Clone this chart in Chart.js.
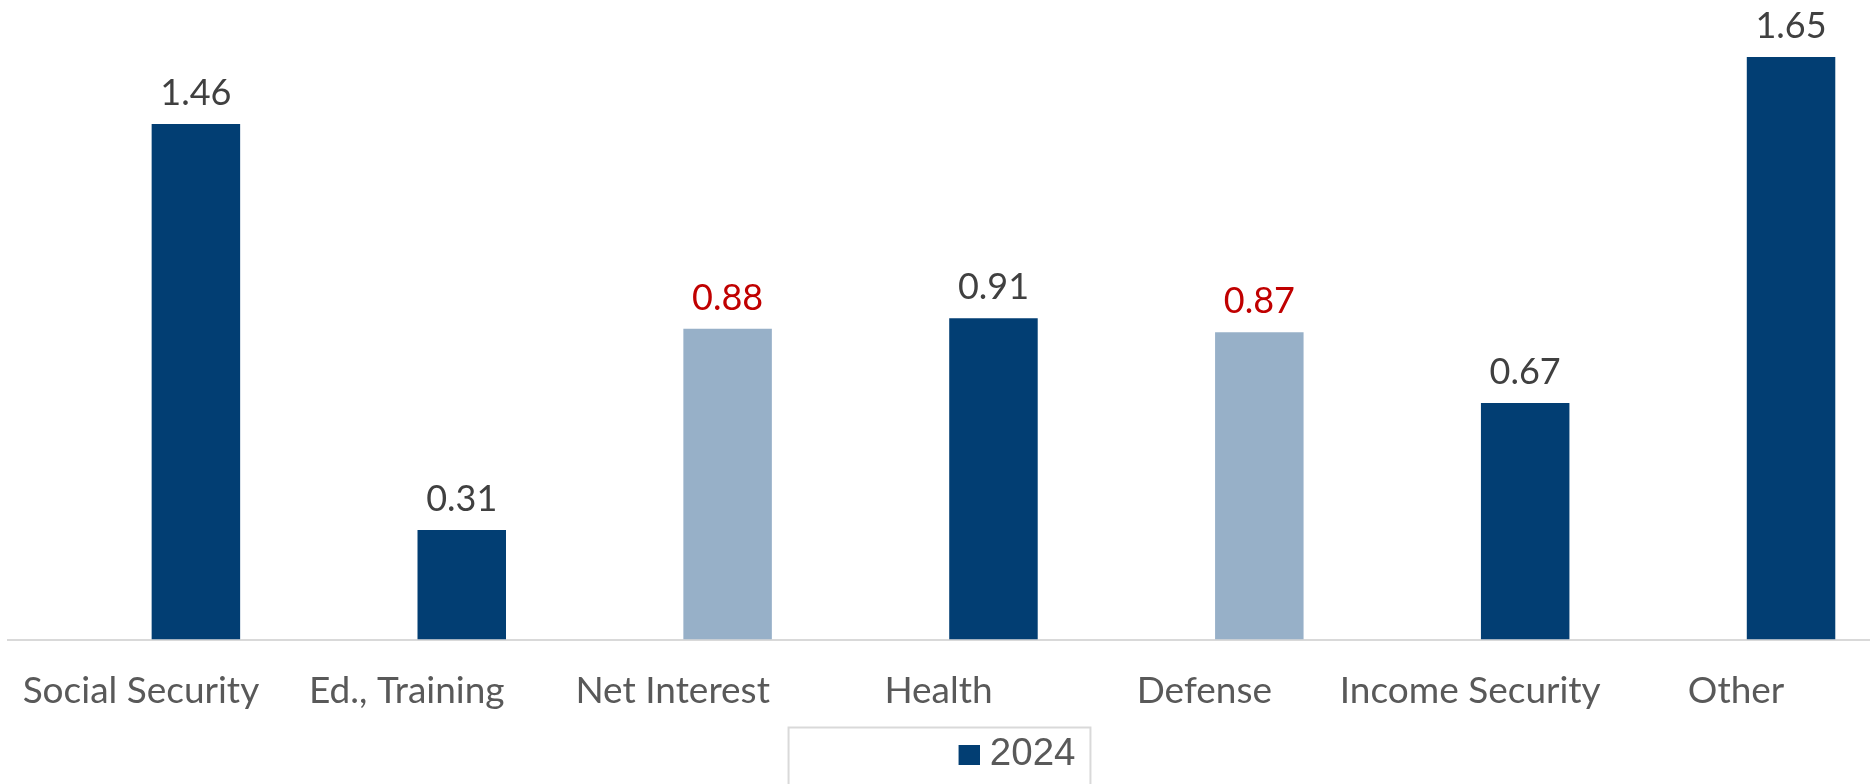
<!DOCTYPE html>
<html><head><meta charset="utf-8">
<script src="https://cdn.jsdelivr.net/npm/chart.js@4.4.1/dist/chart.umd.min.js"></script>
<style>html,body{margin:0;padding:0;background:#fff}#wrap{width:1875px;height:784px;position:relative}</style>
</head><body><div id="wrap"><canvas id="c"></canvas></div>
<script>
const categories = ['Social Security', 'Ed., Training', 'Net Interest', 'Health', 'Defense', 'Income Security', 'Other'];
const values2024 = [1.46, 0.31, 0.88, 0.91, 0.87, 0.67, 1.65];
const emptySeries = [null, null, null, null, null, null, null];
const seriesNames = ['', '2024'];
const barColors = ['#023e73', '#023e73', '#97b0c8', '#023e73', '#97b0c8', '#023e73', '#023e73'];
const labelColors = ['#404040', '#404040', '#c00000', '#404040', '#c00000', '#404040', '#404040'];
const yMin = 0, yMax = 1.8;

// legend marker: navy square drawn at the right of a wider transparent image
const marker = document.createElement('canvas');
marker.width = 39; marker.height = 20;
(function () {
  const m = marker.getContext('2d');
  m.fillStyle = barColors[0];
  m.fillRect(18, 0, 21, 20);
})();

const valueLabels = {
  id: 'valueLabels',
  afterDatasetsDraw(chart) {
    const meta = chart.getDatasetMeta(1);
    const ctx = chart.ctx;
    ctx.save();
    ctx.font = '36px Lato';
    ctx.textAlign = 'center';
    ctx.textBaseline = 'alphabetic';
    meta.data.forEach((bar, i) => {
      ctx.fillStyle = labelColors[i];
      ctx.fillText(values2024[i].toFixed(2), bar.x, bar.y - 19);
    });
    ctx.restore();
  }
};

const legendFrame = {
  id: 'legendFrame',
  afterLayout(chart) {
    const lg = chart.legend;
    if (lg) { lg.left += 74; lg.right += 74; }
  },
  afterDraw(chart) {
    const lg = chart.legend;
    if (!lg || !lg.legendHitBoxes || !lg.legendHitBoxes.length) return;
    const hb = lg.legendHitBoxes[0];
    const ctx = chart.ctx;
    ctx.save();
    ctx.strokeStyle = '#d9d9d9';
    ctx.lineWidth = 2;
    ctx.strokeRect(hb.left - 161, hb.top - 8, hb.width + 161 + 15, 120);
    ctx.restore();
  }
};

new Chart(document.getElementById('c'), {
  type: 'bar',
  data: {
    labels: categories,
    datasets: [
      { label: seriesNames[0], data: emptySeries, backgroundColor: 'rgba(0,0,0,0)' },
      { label: seriesNames[1], data: values2024, backgroundColor: barColors }
    ]
  },
  options: {
    responsive: true,
    maintainAspectRatio: false,
    animation: false,
    devicePixelRatio: 1,
    layout: { padding: { top: 4, left: 8, right: 6, bottom: 0 } },
    datasets: { bar: { categoryPercentage: 0.827, barPercentage: 0.805, borderWidth: 0 } },
    scales: {
      x: {
        grid: { display: true, drawOnChartArea: false, drawTicks: true, tickLength: 29, color: 'rgba(0,0,0,0)' },
        border: { display: true, color: '#d9d9d9', width: 2 },
        ticks: { color: '#595959', font: { family: 'Lato', size: 37 }, padding: 0, maxRotation: 0, autoSkip: false },
        afterFit(scale) { scale.height = 86; }
      },
      y: { display: false, min: yMin, max: yMax }
    },
    plugins: {
      tooltip: { enabled: false },
      legend: {
        position: 'bottom',
        labels: {
          filter: (item) => item.datasetIndex === 1,
          color: '#595959',
          font: { family: 'Liberation Sans', size: 38.5 },
          usePointStyle: true,
          pointStyle: marker,
          boxWidth: 21, boxHeight: 20, padding: 10
        }
      }
    }
  },
  plugins: [valueLabels, legendFrame]
});
</script></body></html>
